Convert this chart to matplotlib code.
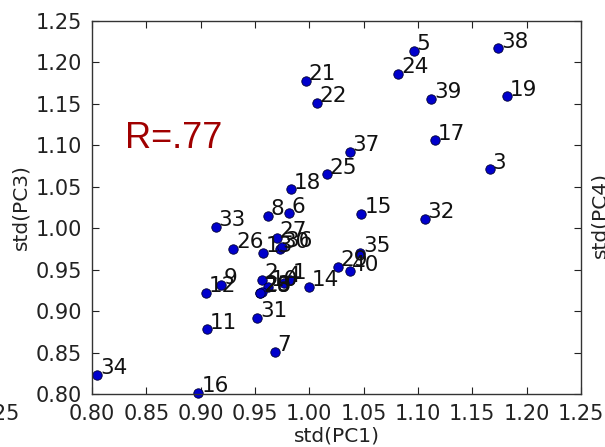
import matplotlib
matplotlib.use("Agg")
from matplotlib import pyplot as plt

# point ids and their (std(PC1), std(PC3)) values
ids = [1, 2, 3, 4, 5, 6, 7, 8, 9, 10,
       11, 12, 13, 14, 15, 16, 17, 18, 19, 20,
       21, 22, 23, 24, 25, 26, 27, 28, 29, 30,
       31, 32, 33, 34, 35, 36, 37, 38, 39, 40]
pc1 = [0.982, 0.956, 1.166, 0.977, 1.096, 0.981, 0.968, 0.962, 0.919, 0.962,
       0.906, 0.905, 0.957, 1.000, 1.048, 0.898, 1.116, 0.983, 1.182, 0.955,
       0.997, 1.007, 0.956, 1.082, 1.016, 0.930, 0.970, 0.955, 1.026, 0.973,
       0.952, 1.106, 0.914, 0.805, 1.047, 0.975, 1.037, 1.174, 1.112, 1.037]
pc3 = [0.938, 0.938, 1.071, 0.934, 1.214, 1.018, 0.851, 1.015, 0.932, 0.929,
       0.878, 0.922, 0.970, 0.929, 1.017, 0.801, 1.106, 1.047, 1.159, 0.922,
       1.178, 1.151, 0.923, 1.186, 1.065, 0.975, 0.988, 0.922, 0.953, 0.975,
       0.892, 1.011, 1.002, 0.823, 0.970, 0.977, 1.092, 1.217, 1.156, 0.948]
r_text = "R=.77"

fig = plt.figure(figsize=(6.05, 4.47), dpi=100)
ax = fig.add_axes([92 / 605, 1 - 394 / 447, 489 / 605, 373 / 447])

ax.scatter(pc1, pc3, s=46, c="#0000cc", edgecolors="#000033", linewidths=0.6,
           zorder=2, clip_on=False)
for i, x, y in zip(ids, pc1, pc3):
    ax.annotate(str(i), (x, y), xytext=(2, 0.5), textcoords="offset points",
                fontsize=15.5, color="#111111", va="baseline", ha="left", zorder=3)

ax.text(0.830, 1.097, r_text, fontsize=26, color="#a00000",
        family="Liberation Sans", va="baseline")

ax.set_xlim(0.80, 1.25)
ax.set_ylim(0.80, 1.25)
ticks = [0.80, 0.85, 0.90, 0.95, 1.00, 1.05, 1.10, 1.15, 1.20, 1.25]
ax.set_xticks(ticks)
ax.set_yticks(ticks)
ax.set_xticklabels(["%.2f" % t for t in ticks])
ax.set_yticklabels(["%.2f" % t for t in ticks])
ax.tick_params(direction="in", top=True, right=True, length=5, width=0.8,
               labelsize=15, colors="#222222", pad=7)
for sp in ax.spines.values():
    sp.set_color("#333333")
    sp.set_linewidth(1.0)

ax.set_xlabel("std(PC1)", fontsize=14.5, color="#222222", labelpad=2)
ax.set_ylabel("std(PC3)", fontsize=14.5, color="#222222", labelpad=4)

# fragments of neighbouring panels at the edges of the crop
fig.text(20 / 605, 1 - 414 / 447, "1.25", fontsize=15, color="#222222",
         ha="right", va="center")
fig.text(590 / 605, 1 - 215 / 447, "std(PC4)", fontsize=14.5, color="#222222",
         rotation=90, ha="left", va="center")

fig.savefig("out.png", dpi=100)
